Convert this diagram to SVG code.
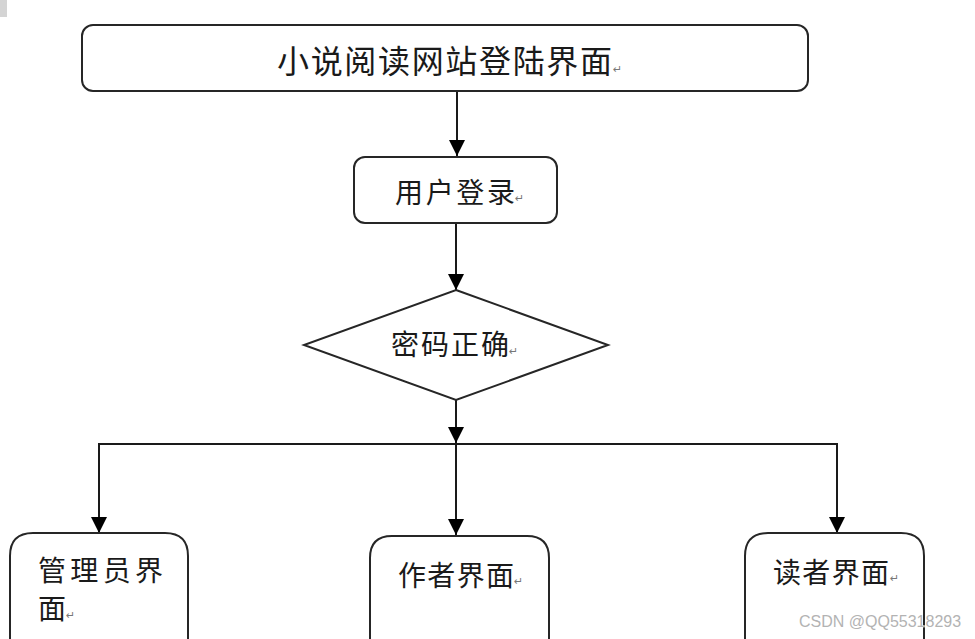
<svg xmlns="http://www.w3.org/2000/svg" width="975" height="639" viewBox="0 0 975 639">
<style>
.box{fill:#fff;stroke:#262626;stroke-width:2}
.t{font-family:"Noto Sans CJK SC","Noto Sans",sans-serif;fill:#1a1a1a}
.rt{font-family:"DejaVu Sans",sans-serif;font-size:11px;fill:#777}
.ln{fill:none;stroke:#1a1a1a;stroke-width:2}
</style>
<defs>
<marker id="ah" markerWidth="16" markerHeight="16" viewBox="0 0 16 16" refX="16" refY="8" orient="auto" markerUnits="userSpaceOnUse">
<path d="M0,0 L16,8 L0,16 Z" fill="#000"/>
</marker>
</defs>
<rect x="0" y="0" width="7" height="17" fill="#d4d4d4"/>
<g id="connectors">
<line class="ln" x1="457" y1="91" x2="457" y2="156" marker-end="url(#ah)"/>
<line class="ln" x1="456" y1="223" x2="456" y2="290" marker-end="url(#ah)"/>
<line class="ln" x1="456" y1="400" x2="456" y2="443" marker-end="url(#ah)"/>
<line class="ln" x1="98" y1="444" x2="838" y2="444"/>
<line class="ln" x1="99" y1="444" x2="99" y2="533" marker-end="url(#ah)"/>
<line class="ln" x1="837" y1="444" x2="837" y2="533" marker-end="url(#ah)"/>
<line class="ln" x1="456" y1="444" x2="456" y2="535" marker-end="url(#ah)"/>
</g>
<g id="login-page">
<rect class="box" x="82" y="25" width="726" height="66" rx="11"/>
<text class="t" x="277" y="73" font-size="32" textLength="335" lengthAdjust="spacing">小说阅读网站登陆界面</text>
<text class="rt" x="613" y="73">↵</text>
</g>
<g id="user-login">
<rect class="box" x="354" y="157" width="203" height="66" rx="11"/>
<text class="t" x="395" y="203" font-size="28" textLength="120" lengthAdjust="spacing">用户登录</text>
<text class="rt" x="515" y="202">↵</text>
</g>
<g id="password-check">
<polygon class="box" points="456,290 608,345 456,400 304,345"/>
<text class="t" x="391" y="355" font-size="28" textLength="118" lengthAdjust="spacing">密码正确</text>
<text class="rt" x="509" y="355">↵</text>
</g>
<g id="admin-page">
<path class="box" d="M10,660 L10,556 Q10,533 33,533 L165,533 Q188,533 188,556 L188,660"/>
<text class="t" x="38" y="581" font-size="28" textLength="125" lengthAdjust="spacing">管理员界</text>
<text class="t" x="38" y="619" font-size="28">面</text>
<text class="rt" x="66" y="619">↵</text>
</g>
<g id="author-page">
<path class="box" d="M370,660 L370,558 Q370,536 392,536 L527,536 Q549,536 549,558 L549,660"/>
<text class="t" x="398" y="586" font-size="28" textLength="116" lengthAdjust="spacing">作者界面</text>
<text class="rt" x="514" y="585">↵</text>
</g>
<g id="reader-page">
<path class="box" d="M745,660 L745,556 Q745,533 768,533 L901,533 Q924,533 924,556 L924,660"/>
<text class="t" x="773" y="583" font-size="28" textLength="116" lengthAdjust="spacing">读者界面</text>
<text class="rt" x="890" y="582">↵</text>
</g>
<text x="799" y="627" font-family="'Liberation Sans',Arial,sans-serif" font-size="16" fill="#b3b3b3" stroke="#fff" stroke-width="0.5" paint-order="stroke">CSDN @QQ55318293</text>
</svg>
